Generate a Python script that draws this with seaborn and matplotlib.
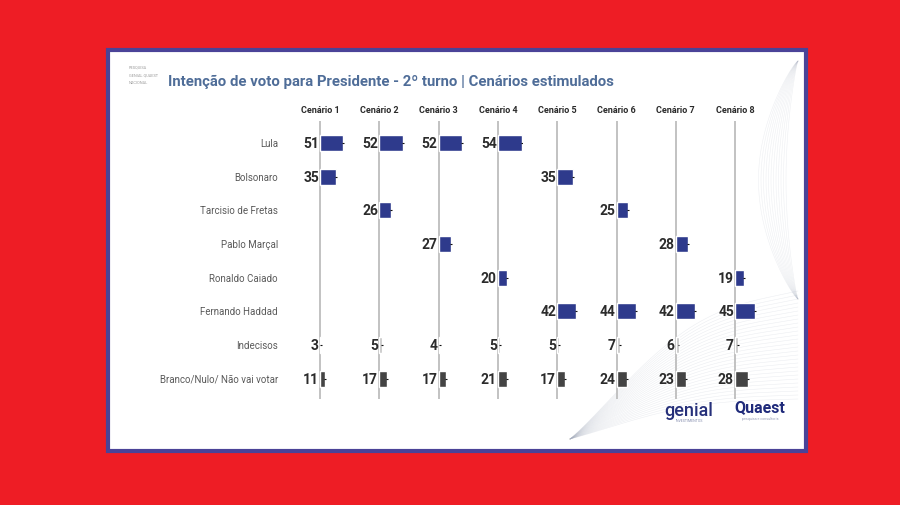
import numpy as np
import pandas as pd
import matplotlib
matplotlib.use("Agg")
import matplotlib.pyplot as plt
import matplotlib.transforms as mtransforms
from matplotlib.patches import Rectangle
import seaborn as sns

sns.set_theme(style="white")
plt.rcParams["font.family"] = ["Roboto", "DejaVu Sans"]

# ---- data ----
cenarios = ["Cenário 1", "Cenário 2", "Cenário 3", "Cenário 4",
            "Cenário 5", "Cenário 6", "Cenário 7", "Cenário 8"]
candidatos = ["Lula", "Bolsonaro", "Tarcisio de Fretas", "Pablo Marçal",
              "Ronaldo Caiado", "Fernando Haddad", "Indecisos",
              "Branco/Nulo/ Não vai votar"]

lula = [51, 52, 52, 54, None, None, None, None]
bolsonaro = [35, None, None, None, 35, None, None, None]
tarcisio = [None, 26, None, None, None, 25, None, None]
marcal = [None, None, 27, None, None, None, 28, None]
caiado = [None, None, None, 20, None, None, None, 19]
haddad = [None, None, None, None, 42, 44, 42, 45]
indecisos = [3, 5, 4, 5, 5, 7, 6, 7]
branco = [11, 17, 17, 21, 17, 24, 23, 28]

series = [lula, bolsonaro, tarcisio, marcal, caiado, haddad, indecisos, branco]

rows = []
for cand, vals in zip(candidatos, series):
    for cen, v in zip(cenarios, vals):
        if v is not None:
            rows.append({"cenario": cen, "candidato": cand, "valor": v})
df = pd.DataFrame(rows)

AZUL = "#2E3A8C"
palette = {c: AZUL for c in candidatos}
palette["Indecisos"] = "#C4C4C4"
palette["Branco/Nulo/ Não vai votar"] = "#444444"

# ---- figure ----
W, H = 900, 506
fig = plt.figure(figsize=(W / 100, H / 100), dpi=100, facecolor="#EE1D25")

# white panel with border
fig.patches.append(Rectangle((108 / W, 1 - 452 / H), (806 - 108) / W, (452 - 51) / H,
                             transform=fig.transFigure, facecolor="white",
                             edgecolor="#4A4398", linewidth=3, zorder=0))

# faint decorative waves on the right
deco = fig.add_axes([0, 0, 1, 1], zorder=0.5)
deco.set_xlim(0, W)
deco.set_ylim(H, 0)
deco.axis("off")
deco.patch.set_alpha(0)
t = np.linspace(0, 1, 200)
for k in range(28):
    xs = 570 + 228 * t
    ys = 440 - (40 + 4 * k) * t ** 1.6 - 60 * np.sin(np.pi * t) * (0.3 + k / 40)
    deco.plot(xs, ys, color="#A8B0C0", lw=0.4, alpha=0.22)
for k in range(12):
    ys = np.linspace(62, 300, 200)
    xs = 798 - (12 + 2.5 * k) * np.sin(np.pi * (ys - 62) / 238) ** 0.8
    deco.plot(xs, ys, color="#A8B0C0", lw=0.4, alpha=0.2)

# title and small header text
fig.text(168 / W, 1 - 82 / H, "Intenção de voto para Presidente - 2º turno | Cenários estimulados",
         color="#4F6D98", fontsize=10.7, fontweight="bold", va="center", ha="left")
for j, s in enumerate(["PESQUISA", "GENIAL QUAEST", "NACIONAL"]):
    fig.text(129 / W, 1 - (68 + 7.5 * j) / H, s, color="#9A9A9A", fontsize=2.8,
             va="center", ha="left")

# column layout
line_x0, line_dx = 320, 59.3
top_px, bot_px = 122, 400
scale = 0.45  # px per percentage point
left_pad = 34

for i, cen in enumerate(cenarios):
    lx = line_x0 + line_dx * i
    ax = fig.add_axes([(lx - left_pad) / W, 1 - bot_px / H, line_dx / W, (bot_px - top_px) / H],
                      zorder=2)
    ax.patch.set_alpha(0)
    sub = df[df["cenario"] == cen]
    sns.barplot(data=sub, x="valor", y="candidato", hue="candidato", order=candidatos,
                hue_order=candidatos, palette=palette, orient="h", width=0.48,
                saturation=1, legend=False, errorbar=None, ax=ax, zorder=3)
    ax.set_xlim(-left_pad / scale, (line_dx - left_pad) / scale)
    ax.set_ylim(7.6, -0.65)
    ax.axvline(0, color="#BDBDBD", lw=1.3, zorder=1)
    ax.axis("off")

    ypos = [candidatos.index(c) for c in sub["candidato"]]
    ax.errorbar(sub["valor"], ypos, xerr=2.2, fmt="none", ecolor="#111111",
                elinewidth=0.8, capsize=0, zorder=4)
    for y, v in zip(ypos, sub["valor"]):
        ax.text(-2.5, y, f"{v}", ha="right", va="center", fontsize=10,
                fontweight="bold", color="#2B2B2B")
    ax.text(0, 1.04, cen, transform=ax.get_xaxis_transform(), ha="center",
            va="center", fontsize=6.5, fontweight="bold", color="#2A2A2A")

    if i == 0:
        tr = mtransforms.blended_transform_factory(fig.transFigure, ax.transData)
        for y, cand in enumerate(candidatos):
            fig.text(278 / W, y, cand, transform=tr, ha="right", va="center",
                     fontsize=7, color="#5A5A5A")

# logos as text
fig.text(689 / W, 1 - 411 / H, "genial", color="#26307A", fontsize=13, fontweight="medium",
         ha="center", va="center", zorder=5)
fig.text(689 / W, 1 - 421 / H, "INVESTIMENTOS", color="#8890B0", fontsize=2.6,
         ha="center", va="center", zorder=5)
fig.text(760 / W, 1 - 408 / H, "Quaest", color="#1F2A7A", fontsize=11.5,
         fontweight="bold", ha="center", va="center", zorder=5)
fig.text(760 / W, 1 - 419 / H, "pesquisa e consultoria", color="#9AA0B8", fontsize=2.6,
         ha="center", va="center", zorder=5)

fig.savefig("out.png", dpi=100, facecolor=fig.get_facecolor())
